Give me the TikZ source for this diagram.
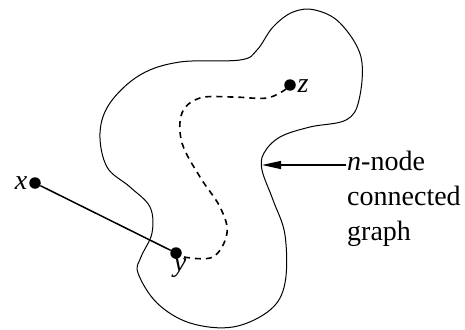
\documentclass[tikz,border=0pt]{standalone}
\usepackage{fontspec}
\setmainfont{Liberation Serif}
\usetikzlibrary{arrows.meta}
\newcommand{\bigtxt}{\fontsize{28pt}{35pt}\selectfont}
\tikzset{
  dot/.style={circle,fill=black,inner sep=0pt,minimum size=11.5pt},
  lab/.style={font=\bigtxt\itshape,inner sep=1.5pt},
  txt/.style={font=\bigtxt,align=left,inner sep=0pt},
  dashpath/.style={line width=1.6pt,dash pattern=on 6pt off 5pt},
  pointer/.style={line width=1.2pt,-{Stealth[length=19pt,width=8pt,inset=0pt]}}}
\begin{document}
\begin{tikzpicture}[x=1pt,y=-1pt]
\useasboundingbox (0,0) rectangle (465,329);
% blob outline
\draw[line width=1pt] plot[smooth cycle,tension=0.6] coordinates{
 (315,10) (340,23) (361,57) (359,100) (346,120) (310,127) (280,137)
 (264,153) (262,170) (273,200) (285,235) (285,283) (270,310) (233,327)
 (190,323) (157,303) (138,273) (141,257) (152,233) (150,207) (130,187)
 (107,167) (100,133) (110,103) (140,75) (180,62) (240,60) (257,50)
 (273,27) (293,12)};
% dots
\node[dot] (x) at (35,183) {};
\node[dot] (y) at (176,253) {};
\node[dot] (z) at (290,85) {};
\node[lab,anchor=east] at (x.west) {x};
\node[lab,anchor=north] at ([xshift=4pt,yshift=2pt]y.south) {y};
\node[lab,anchor=west] at ([yshift=-1pt]z.east) {z};
% edge x-y
\draw[line width=1.5pt] (x) -- (y);
% dashed path y-z
\coordinate (ys) at (184,257);
\coordinate (zs) at (286,89);
\draw[dashpath] plot[smooth,tension=0.6] coordinates{
 (ys) (213,257) (227,233) (220,207) (200,177) (182,143) (182,113)
 (200,98) (233,97) (267,98) (zs)};
% label
\node[txt,anchor=north west] (lbl) at (347,151) {\textit{n}-node\\connected\\graph};
\coordinate (start) at (346,165);
\coordinate (tip) at (262,165);
\draw[pointer] (start) -- (tip);
\end{tikzpicture}
\end{document}
